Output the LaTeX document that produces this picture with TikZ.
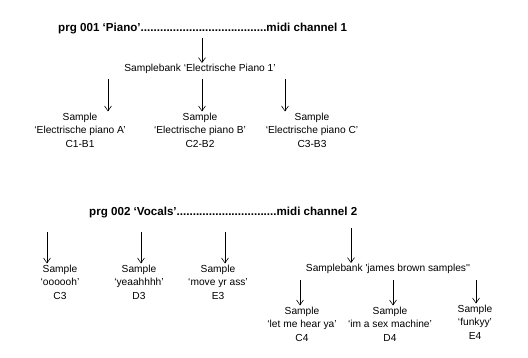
\documentclass[tikz,border=0pt]{standalone}
\usepackage{fontspec}
\setmainfont{Liberation Sans}
\usetikzlibrary{arrows.meta, positioning}

\begin{document}
\begin{tikzpicture}[x=1pt, y=-1pt,
  txt/.style={font=\fontsize{10.2}{13.6}\selectfont, align=center, inner sep=1pt},
  head/.style={font=\fontsize{11.6}{14}\selectfont\bfseries, anchor=base west, inner sep=0pt},
  arr/.style={-{Straight Barb[length=5pt,width=7pt]}, line width=0.6pt}]
  \useasboundingbox (0,0) rectangle (528,358);
  % prg 001
  \node[head] (prg1) at (58,32) {prg 001 ‘Piano’.......................................midi channel 1};
  \node[txt] (bank1) at (200,69) {Samplebank ‘Electrische Piano 1’};
  \node[txt] (smpA) at (80,130) {Sample\\‘Electrische piano A’\\C1-B1};
  \node[txt] (smpB) at (200,130) {Sample\\‘Electrische piano B’\\C2-B2};
  \node[txt] (smpC) at (312,130) {Sample\\‘Electrische piano C’\\C3-B3};
  \coordinate (p1) at (202,38);
  \coordinate (b1a) at (108,79);
  \coordinate (b1b) at (202,79);
  \coordinate (b1c) at (285,79);
  \draw[arr] (p1) -- (p1 |- bank1.north);
  \draw[arr] (b1a) -- (b1a |- smpA.north);
  \draw[arr] (b1b) -- (b1b |- smpB.north);
  \draw[arr] (b1c) -- (b1c |- smpC.north);
  % prg 002
  \node[head] (prg2) at (89,216) {prg 002 ‘Vocals’...............................midi channel 2};
  \node[txt] (vox1) at (60,282) {Sample\\‘oooooh’\\C3};
  \node[txt] (vox2) at (139,282) {Sample\\‘yeaahhhh’\\D3};
  \node[txt] (vox3) at (218,282) {Sample\\‘move yr ass’\\E3};
  \node[txt] (bank2) at (388,269) {Samplebank \textquotesingle james brown samples\textquotesingle\textquotesingle};
  \node[txt] (jb1) at (302,324) {Sample\\‘let me hear ya’\\C4};
  \node[txt] (jb2) at (390,324) {Sample\\‘im a sex machine’\\D4};
  \node[txt] (jb3) at (475,322) {Sample\\‘funkyy’\\E4};
  \coordinate (v1) at (47,232);
  \coordinate (v2) at (141,232);
  \coordinate (v3) at (225,232);
  \coordinate (v4) at (351,228);
  \coordinate (j1) at (300,280);
  \coordinate (j2) at (393,280);
  \coordinate (j3) at (476,280);
  \draw[arr] (v1) -- (v1 |- vox1.north);
  \draw[arr] (v2) -- (v2 |- vox2.north);
  \draw[arr] (v3) -- (v3 |- vox3.north);
  \draw[arr] (v4) -- (v4 |- bank2.north);
  \draw[arr] (j1) -- (j1 |- jb1.north);
  \draw[arr] (j2) -- (j2 |- jb2.north);
  \draw[arr] (j3) -- (j3 |- jb3.north);
\end{tikzpicture}
\end{document}
